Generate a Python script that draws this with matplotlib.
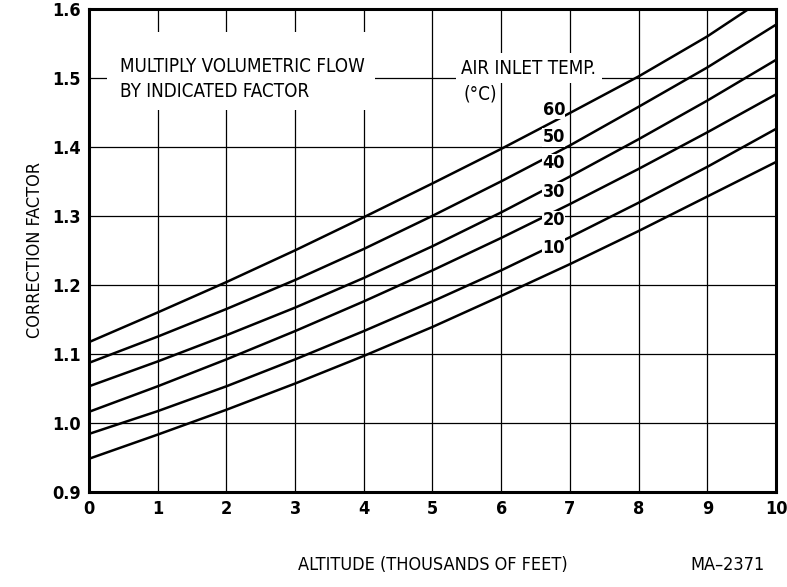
import matplotlib
matplotlib.use("Agg")
import matplotlib.pyplot as plt
from matplotlib.patches import Rectangle

plt.rcParams["font.family"] = ["Liberation Sans Narrow", "DejaVu Sans"]
plt.rcParams["font.stretch"] = "condensed"

# altitude in thousands of feet
altitude = [0, 1, 2, 3, 4, 5, 6, 7, 8, 9, 10]

# correction factor for each air inlet temperature (deg C)
temps = [60, 50, 40, 30, 20, 10]
factor_60 = [1.117, 1.160, 1.204, 1.250, 1.298, 1.347, 1.397, 1.449, 1.502, 1.560, 1.626]
factor_50 = [1.087, 1.125, 1.165, 1.207, 1.252, 1.300, 1.350, 1.402, 1.458, 1.515, 1.577]
factor_40 = [1.053, 1.089, 1.127, 1.167, 1.210, 1.256, 1.305, 1.357, 1.411, 1.467, 1.526]
factor_30 = [1.016, 1.053, 1.092, 1.133, 1.176, 1.221, 1.268, 1.317, 1.368, 1.421, 1.476]
factor_20 = [0.984, 1.017, 1.053, 1.092, 1.133, 1.176, 1.221, 1.269, 1.319, 1.371, 1.426]
factor_10 = [0.948, 0.983, 1.019, 1.057, 1.097, 1.139, 1.184, 1.230, 1.278, 1.328, 1.378]
curves = [factor_60, factor_50, factor_40, factor_30, factor_20, factor_10]

# where the temperature labels sit (y in correction factor units)
label_y = [1.454, 1.414, 1.376, 1.335, 1.294, 1.254]

x_ticks = list(range(0, 11))
y_ticks = [0.9, 1.0, 1.1, 1.2, 1.3, 1.4, 1.5, 1.6]

fig = plt.figure(figsize=(7.87, 5.87), dpi=100)
ax = fig.add_axes([0.113, 0.162, 0.873, 0.823])

ax.set_xlim(0, 10)
ax.set_ylim(0.9, 1.6)
ax.set_xticks(x_ticks)
ax.set_yticks(y_ticks)
ax.set_yticklabels([f"{v:.1f}" for v in y_ticks])
ax.tick_params(length=0, labelsize=13, pad=6)
for lab in ax.get_xticklabels() + ax.get_yticklabels():
    lab.set_fontweight("bold")

ax.grid(True, color="black", linewidth=0.9)
ax.set_axisbelow(True)
for sp in ax.spines.values():
    sp.set_linewidth(2.2)

for vals in curves:
    ax.plot(altitude, vals, color="black", linewidth=1.8, zorder=3)

for t, y in zip(temps, label_y):
    ax.text(6.93, y, str(t), ha="right", va="center", fontsize=13, fontweight="bold",
            zorder=4, bbox=dict(facecolor="white", edgecolor="none", pad=0.3))

# blank area behind the note (grid is interrupted there)
ax.add_patch(Rectangle((0.26, 1.454), 3.91, 0.113, facecolor="white", edgecolor="none", zorder=1))
ax.text(0.45, 1.499, "MULTIPLY VOLUMETRIC FLOW\nBY INDICATED FACTOR", ha="left", va="center",
        fontsize=13.5, linespacing=1.4, zorder=4)
ax.text(5.42, 1.514, "AIR INLET TEMP.", ha="left", va="center", fontsize=13.5, zorder=4,
        bbox=dict(facecolor="white", edgecolor="none", pad=4))
ax.text(5.45, 1.476, "(°C)", ha="left", va="center", fontsize=13.5, zorder=4,
        bbox=dict(facecolor="white", edgecolor="none", pad=1))

ax.set_ylabel("CORRECTION FACTOR", fontsize=13, labelpad=6)
fig.text(0.55, 0.038, "ALTITUDE (THOUSANDS OF FEET)", ha="center", va="center", fontsize=13)
fig.text(0.925, 0.038, "MA\u20132371", ha="center", va="center", fontsize=13)

fig.savefig("out.png", dpi=100)
